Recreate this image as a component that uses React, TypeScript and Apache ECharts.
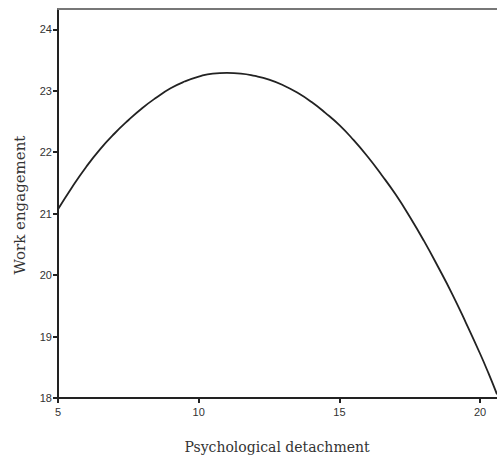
import React, { useEffect, useRef } from "react";
import * as echarts from "echarts";

const detachment = [5, 5.5, 6, 6.5, 7, 7.5, 8, 8.5, 9, 9.5, 10, 10.5, 11, 11.5, 12, 12.5, 13, 13.5, 14, 14.5, 15, 15.5, 16, 16.5, 17, 17.5, 18, 18.5, 19, 19.5, 20, 20.3, 20.6];
const engagement = [21.07, 21.43, 21.76, 22.05, 22.3, 22.52, 22.72, 22.89, 23.04, 23.15, 23.23, 23.28, 23.29, 23.28, 23.24, 23.18, 23.09, 22.97, 22.82, 22.64, 22.44, 22.2, 21.93, 21.63, 21.31, 20.95, 20.56, 20.14, 19.7, 19.22, 18.72, 18.4, 18.06];
const xTicks = [5, 10, 15, 20];
const yTicks = [18, 19, 20, 21, 22, 23, 24];
const xTitle = "Psychological detachment";
const yTitle = "Work engagement";

export default function App() {
  const ref = useRef<HTMLDivElement>(null);
  useEffect(() => {
    document.body.style.margin = "0";
    const chart = echarts.init(ref.current!, null, { renderer: "svg" });
    const labelStyle = { color: "#333", fontSize: 11, fontFamily: "Liberation Sans, Arial, sans-serif" };
    chart.setOption({
      animation: false,
      backgroundColor: "#fff",
      grid: { left: 58, right: 0, top: 9, bottom: 59 },
      xAxis: [
        {
          type: "value",
          min: 5,
          max: 20.6,
          axisLine: { show: true, onZero: false, lineStyle: { color: "#222", width: 2 } },
          axisTick: { show: true, inside: false, length: 5, customValues: xTicks, lineStyle: { color: "#222", width: 2 } },
          axisLabel: { customValues: xTicks, margin: 8, ...labelStyle },
          splitLine: { show: false },
        },
        {
          type: "value",
          position: "top",
          min: 5,
          max: 20.6,
          axisLine: { show: true, onZero: false, lineStyle: { color: "#777", width: 2 } },
          axisTick: { show: false },
          axisLabel: { show: false },
          splitLine: { show: false },
        },
      ],
      yAxis: {
        type: "value",
        min: 18,
        max: 24.33,
        axisLine: { show: true, onZero: false, lineStyle: { color: "#222", width: 2 } },
        axisTick: { show: true, inside: false, length: 5, customValues: yTicks, lineStyle: { color: "#222", width: 2 } },
        axisLabel: { customValues: yTicks, margin: 6, ...labelStyle },
        splitLine: { show: false },
      },
      graphic: [
        {
          type: "text",
          x: 277,
          y: 447,
          style: {
            text: xTitle,
            fill: "#333",
            fontSize: 14,
            fontFamily: "DejaVu Serif, serif",
            align: "center",
            verticalAlign: "middle",
          },
        },
        {
          type: "text",
          x: 20,
          y: 205,
          rotation: Math.PI / 2,
          style: {
            text: yTitle,
            fill: "#333",
            fontSize: 15,
            fontFamily: "DejaVu Serif, serif",
            align: "center",
            verticalAlign: "middle",
          },
        },
      ],
      series: [
        {
          type: "line",
          smooth: true,
          showSymbol: false,
          data: detachment.map((x, i) => [x, engagement[i]]),
          lineStyle: { color: "#222", width: 1.8 },
          clip: true,
        },
      ],
    });
    return () => chart.dispose();
  }, []);
  return <div ref={ref} style={{ position: "absolute", left: 0, top: 0, width: 497, height: 457 }} />;
}
